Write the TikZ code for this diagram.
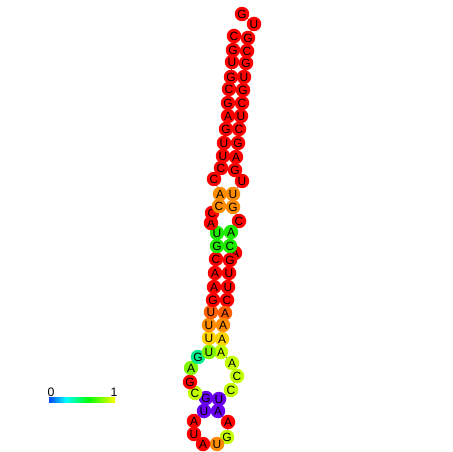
\documentclass[tikz,border=0pt]{standalone}
\usepackage{fontspec}
\setmainfont{Liberation Sans}
\usetikzlibrary{backgrounds}

\definecolor{cRed}{RGB}{255,0,0}
\definecolor{cOrRed}{RGB}{255,95,0}
\definecolor{cOrange}{RGB}{255,140,0}
\definecolor{cGold}{RGB}{255,210,0}
\definecolor{cLime}{RGB}{195,255,0}
\definecolor{cLgreen}{RGB}{130,245,0}
\definecolor{cGreen}{RGB}{30,235,0}
\definecolor{cTeal}{RGB}{0,235,140}
\definecolor{cPurple}{RGB}{105,0,240}
\definecolor{cViolet}{RGB}{150,0,255}

\pgfdeclarehorizontalshading{rainbowbar}{100bp}{%
  color(0bp)=(cViolet); color(20bp)=(blue); color(38bp)=(cyan);
  color(55bp)=(green); color(75bp)=(yellow); color(88bp)=(orange);
  color(100bp)=(red)}

\begin{document}
\begin{tikzpicture}[
  x=0.02cm, y=-0.02cm,
  base/.style={
    circle, inner sep=0pt, minimum size=0.29cm,
    font=\fontsize{6.8}{7}\selectfont
  },
  bb/.style={gray!70!black, line width=0.35pt},
  pair/.style={gray!70!black, line width=0.35pt}
]
\useasboundingbox (0,0) rectangle (452,452);

% bulged base, mostly hidden behind its neighbours
\node[base, fill=cRed] (b20) at (235,253) {A};

% 5' end and right strand, going down
\node[base, fill=cRed] (b1) at (242,14) {G};
\node[base, fill=cRed] (b2) at (254,24) {U};
\node[base, fill=cRed] (b3) at (248,38) {G};
\node[base, fill=cRed] (b4) at (247,51) {C};
\node[base, fill=cRed] (b5) at (246,63) {G};
\node[base, fill=cRed] (b6) at (244,77) {U};
\node[base, fill=cRed] (b7) at (243,90) {G};
\node[base, fill=cRed] (b8) at (242,103) {C};
\node[base, fill=cRed] (b9) at (241,116) {U};
\node[base, fill=cRed] (b10) at (239,129) {C};
\node[base, fill=cRed] (b11) at (238,143) {G};
\node[base, fill=cRed] (b12) at (236,157) {A};
\node[base, fill=cRed] (b13) at (235,170) {G};
\node[base, fill=cRed] (b14) at (242,181) {U};
\node[base, fill=cOrange] (b15) at (233,194) {U};
\node[base, fill=cOrange] (b16) at (233,207) {G};
\node[base, fill=cRed] (b17) at (239,221) {C};
\node[base, fill=cGreen] (b18) at (231,232) {A};
\node[base, fill=cGreen] (b19) at (230,246) {C};
\node[base, fill=cRed] (b21) at (230,260) {G};
\node[base, fill=cRed] (b22) at (229,273) {U};
\node[base, fill=cRed] (b23) at (228,287) {U};
\node[base, fill=cRed] (b24) at (227,300) {C};
\node[base, fill=cOrRed] (b25) at (225,313) {A};
\node[base, fill=cOrange] (b26) at (223,325) {A};
\node[base, fill=cGold] (b27) at (222,339) {A};
\node[base, fill=cLime] (b28) at (221,352) {A};

% inner loop, right side
\node[base, fill=cLime] (b29) at (232,363) {A};
\node[base, fill=cLime] (b30) at (237,376) {C};
\node[base, fill=cLime] (b31) at (231,390) {C};
\node[base, fill=cPurple] (b32) at (219,399) {U};
\node[base, fill=cPurple] (b33) at (218,411) {A};

% hairpin loop
\node[base, fill=cRed] (b34) at (228,422) {A};
\node[base, fill=cLime] (b35) at (227,437) {G};
\node[base, fill=cOrange] (b36) at (217,444) {U};
\node[base, fill=cRed] (b37) at (203,444) {A};
\node[base, fill=cRed] (b38) at (194,434) {U};
\node[base, fill=cRed] (b39) at (194,421) {A};

% inner loop, left side
\node[base, fill=cPurple] (b40) at (204,411) {U};
\node[base, fill=cPurple] (b41) at (206,398) {G};
\node[base, fill=cLime] (b42) at (195,393) {C};
\node[base, fill=cRed] (b43) at (190,382) {G};
\node[base, fill=cLgreen] (b44) at (191,368) {A};
\node[base, fill=cTeal] (b45) at (198,357) {G};

% left strand, going up to the 3' end
\node[base, fill=cLgreen] (b46) at (209,352) {U};
\node[base, fill=cGold] (b47) at (209,338) {U};
\node[base, fill=cOrange] (b48) at (209,325) {U};
\node[base, fill=cOrRed] (b49) at (211,312) {U};
\node[base, fill=cRed] (b50) at (213,300) {G};
\node[base, fill=cRed] (b51) at (214,287) {A};
\node[base, fill=cRed] (b52) at (215,273) {A};
\node[base, fill=cRed] (b53) at (216,259) {C};
\node[base, fill=cGreen] (b54) at (217,246) {G};
\node[base, fill=cGreen] (b55) at (217,233) {U};
\node[base, fill=cRed] (b56) at (211,223) {A};
\node[base, fill=cRed] (b57) at (212,213) {C};
\node[base, fill=cOrange] (b58) at (219,206) {C};
\node[base, fill=cOrange] (b59) at (220,194) {A};
\node[base, fill=cRed] (b60) at (214,179) {C};
\node[base, fill=cRed] (b61) at (221,168) {C};
\node[base, fill=cRed] (b62) at (223,156) {U};
\node[base, fill=cRed] (b63) at (224,143) {U};
\node[base, fill=cRed] (b64) at (226,129) {G};
\node[base, fill=cRed] (b65) at (228,116) {A};
\node[base, fill=cRed] (b66) at (228,103) {G};
\node[base, fill=cRed] (b67) at (229,89) {C};
\node[base, fill=cRed] (b68) at (231,77) {G};
\node[base, fill=cRed] (b69) at (232,62) {U};
\node[base, fill=cRed] (b70) at (233,50) {G};
\node[base, fill=cRed] (b71) at (234,36) {C};

% backbone and base pairs behind the bases
\begin{scope}[on background layer]
\draw[bb] (b1.center) \foreach \i in {2,...,71} { -- (b\i.center) };
\foreach \a/\b in {3/71, 4/70, 5/69, 6/68, 7/67, 8/66, 9/65, 10/64, 11/63,
    12/62, 13/61, 15/59, 16/58, 18/55, 19/54, 21/53, 22/52, 23/51, 24/50,
    25/49, 26/48, 27/47, 28/46, 32/41, 33/40}
  \draw[pair] (b\a.center) -- (b\b.center);
\end{scope}

% colour scale
\shade[shading=rainbowbar] (49,397) rectangle (115,402);
\node[font=\fontsize{7}{8}\selectfont] (lo) at (51,392) {0};
\node[font=\fontsize{7}{8}\selectfont] (hi) at (114,392) {1};

\end{tikzpicture}
\end{document}
